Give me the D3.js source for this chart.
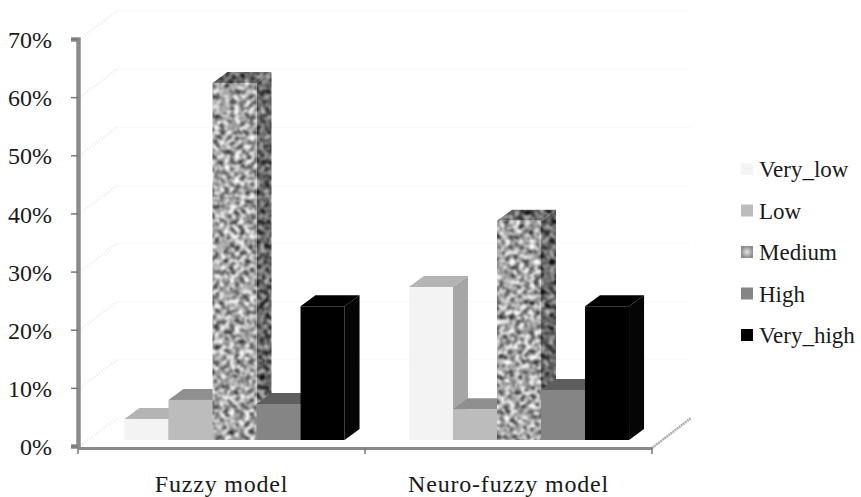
<!DOCTYPE html>
<html>
<head>
<meta charset="utf-8">
<script src="https://cdn.jsdelivr.net/npm/d3@7"></script>
<style>
    html, body { margin: 0; padding: 0; background: #fff; }
    text { font-family: "Liberation Serif", serif; fill: #1a1a1a; }
</style>
</head>
<body>
<div id="chart"></div>
<script>
// values (percent)
const categories = ['Fuzzy model', 'Neuro-fuzzy model'];
const seriesNames = ['Very_low', 'Low', 'Medium', 'High', 'Very_high'];
const fuzzyValues = [3.6, 6.9, 61.4, 6.2, 23];
const neuroValues = [26.3, 5.3, 37.7, 8.6, 23];
const yTicks = [0, 10, 20, 30, 40, 50, 60, 70];

const frontColors = ['#f3f3f3', '#bcbcbc', '#a8a8a8', '#858585', '#000000'];
const topColors = ['#b4b4b4', '#8f8f8f', '#6e6e6e', '#5e5e5e', '#000000'];
const sideColors = ['#a6a6a6', '#8a8a8a', '#6a6a6a', '#5c5c5c', '#050505'];

const width = 861, height = 497;
const margin = { top: 39, left: 78, right: 209, bottom: 51 };
const wall = { dx: 39, dy: -28 };    // back wall offset
const depth = { dx: 15, dy: -11 };   // bar depth
const floorGap = 6;                  // bars sit a bit above the axis line
const barShift = [13, 10.5];         // per category, the 3d view pushes the bars right

const svg = d3.select('#chart')
    .append('svg')
    .attr('width', width)
    .attr('height', height)
    .style('display', 'block');

// filters
const defs = svg.append('defs');
const soft = defs.append('filter').attr('id', 'soft')
    .attr('color-interpolation-filters', 'sRGB');
soft.append('feGaussianBlur').attr('stdDeviation', 0.6);

function mottle(id, slope, offset) {
    const f = defs.append('filter').attr('id', id)
        .attr('color-interpolation-filters', 'sRGB');
    f.append('feTurbulence')
        .attr('type', 'fractalNoise')
        .attr('baseFrequency', 0.2)
        .attr('numOctaves', 2)
        .attr('seed', 7)
        .attr('result', 'noise');
    f.append('feColorMatrix')
        .attr('in', 'noise')
        .attr('type', 'matrix')
        .attr('values', `${slope} 0 0 0 ${offset} ${slope} 0 0 0 ${offset} ${slope} 0 0 0 ${offset} 0 0 0 0 1`)
        .attr('result', 'gray');
    f.append('feGaussianBlur').attr('in', 'gray').attr('stdDeviation', 1).attr('result', 'blurred');
    f.append('feComposite').attr('in', 'blurred').attr('in2', 'SourceAlpha').attr('operator', 'in');
}
mottle('mottleFront', 1.7, -0.2);
mottle('mottleSide', 1.4, -0.3);

const legendGrad = defs.append('radialGradient').attr('id', 'legendMedium');
legendGrad.append('stop').attr('offset', '0%').attr('stop-color', '#e4e4e4');
legendGrad.append('stop').attr('offset', '100%').attr('stop-color', '#8c8c8c');

// scales
const x = d3.scaleBand()
    .domain(categories)
    .range([margin.left, width - margin.right]);

const y = d3.scaleLinear()
    .domain([0, 70])
    .range([height - margin.bottom, margin.top]);

const xSeries = d3.scaleBand()
    .domain(seriesNames)
    .range([0, x.bandwidth()])
    .paddingOuter(0.76)
    .paddingInner(0);

// back wall gridlines and their diagonal parts
const grid = svg.append('g');
grid.selectAll('line.back')
    .data(yTicks.slice(1))
    .enter().append('line')
    .attr('x1', margin.left + wall.dx)
    .attr('x2', width - margin.right + wall.dx)
    .attr('y1', d => y(d) + wall.dy)
    .attr('y2', d => y(d) + wall.dy)
    .attr('stroke', '#f8f8f8');
grid.selectAll('line.diag')
    .data(yTicks)
    .enter().append('line')
    .attr('x1', margin.left + 2)
    .attr('x2', margin.left + wall.dx)
    .attr('y1', d => y(d))
    .attr('y2', d => y(d) + wall.dy)
    .attr('stroke', '#ececec')
    .attr('stroke-width', 3)
    .attr('stroke-dasharray', '1 2');

// floor edge on the right
svg.append('line')
    .attr('x1', width - margin.right)
    .attr('x2', width - margin.right + wall.dx)
    .attr('y1', y(0) + 2)
    .attr('y2', y(0) + wall.dy)
    .attr('stroke', '#b0b0b0')
    .attr('stroke-width', 2.5)
    .attr('stroke-dasharray', '2 0.6');

// bars, left to right so that each one covers the side of the previous
const rows = [];
categories.forEach((c, ci) => {
    const vals = ci === 0 ? fuzzyValues : neuroValues;
    seriesNames.forEach((s, si) => rows.push({ category: c, ci: ci, series: s, si: si, value: vals[si] }));
});

const bars = svg.append('g').attr('filter', 'url(#soft)');
const base = y(0) - floorGap;
const barX = d => x(d.category) + xSeries(d.series) + barShift[d.ci];
const barTop = d => base - (y(0) - y(d.value));
const bw = xSeries.bandwidth();

const bar = bars.selectAll('g.bar')
    .data(rows)
    .enter().append('g')
    .attr('class', 'bar');

bar.append('path')
    .attr('d', d => {
        const l = barX(d) + bw, t = barTop(d);
        return `M${l},${t}L${l + depth.dx},${t + depth.dy}L${l + depth.dx},${base + depth.dy}L${l},${base}Z`;
    })
    .attr('fill', d => sideColors[d.si])
    .attr('filter', d => d.series === 'Medium' ? 'url(#mottleSide)' : null);

bar.append('path')
    .attr('d', d => {
        const l = barX(d), t = barTop(d);
        return `M${l},${t}L${l + depth.dx},${t + depth.dy}L${l + bw + depth.dx},${t + depth.dy}L${l + bw},${t}Z`;
    })
    .attr('fill', d => topColors[d.si])
    .attr('filter', d => d.series === 'Medium' ? 'url(#mottleSide)' : null);

bar.append('rect')
    .attr('x', barX)
    .attr('y', barTop)
    .attr('width', bw)
    .attr('height', d => base - barTop(d))
    .attr('fill', d => frontColors[d.si])
    .attr('filter', d => d.series === 'Medium' ? 'url(#mottleFront)' : null);

// axes
const yAxis = svg.append('g')
    .attr('transform', `translate(${margin.left},0)`)
    .call(d3.axisLeft(y).tickValues(yTicks).tickFormat(d => d + '%').tickSize(7).tickPadding(19));
yAxis.select('.domain').attr('stroke', '#8a8a8a').attr('stroke-width', 4.5);
yAxis.selectAll('.tick line').attr('stroke', '#777').attr('stroke-width', 1.5);
yAxis.selectAll('text').style('font-size', '24px').attr('fill', '#1a1a1a').attr('dy', '0.36em');

const xAxis = svg.append('g')
    .attr('transform', `translate(0,${y(0) + 2})`)
    .call(d3.axisBottom(x).tickSize(0).tickPadding(27));
xAxis.select('.domain').attr('stroke', '#8a8a8a').attr('stroke-width', 3);
xAxis.selectAll('text')
    .style('font-size', '24px')
    .style('letter-spacing', '0.8px')
    .attr('fill', '#1a1a1a');

// tick marks between the categories
xAxis.selectAll('line.edge')
    .data(d3.range(categories.length + 1))
    .enter().append('line')
    .attr('class', 'edge')
    .attr('x1', i => margin.left + i * x.step())
    .attr('x2', i => margin.left + i * x.step())
    .attr('y1', 0)
    .attr('y2', 6)
    .attr('stroke', '#777')
    .attr('stroke-width', 1.5);

// legend
const legendY = d3.scalePoint()
    .domain(seriesNames)
    .range([169, 335]);

const legend = svg.append('g');
legend.selectAll('rect')
    .data(seriesNames)
    .enter().append('rect')
    .attr('x', 741)
    .attr('y', d => legendY(d) - 6)
    .attr('width', 12)
    .attr('height', 12)
    .attr('fill', (d, i) => d === 'Medium' ? 'url(#legendMedium)' : frontColors[i]);
legend.selectAll('text')
    .data(seriesNames)
    .enter().append('text')
    .attr('x', 759)
    .attr('y', d => legendY(d) + 8)
    .style('font-size', '23px')
    .text(d => d);
</script>
</body>
</html>
